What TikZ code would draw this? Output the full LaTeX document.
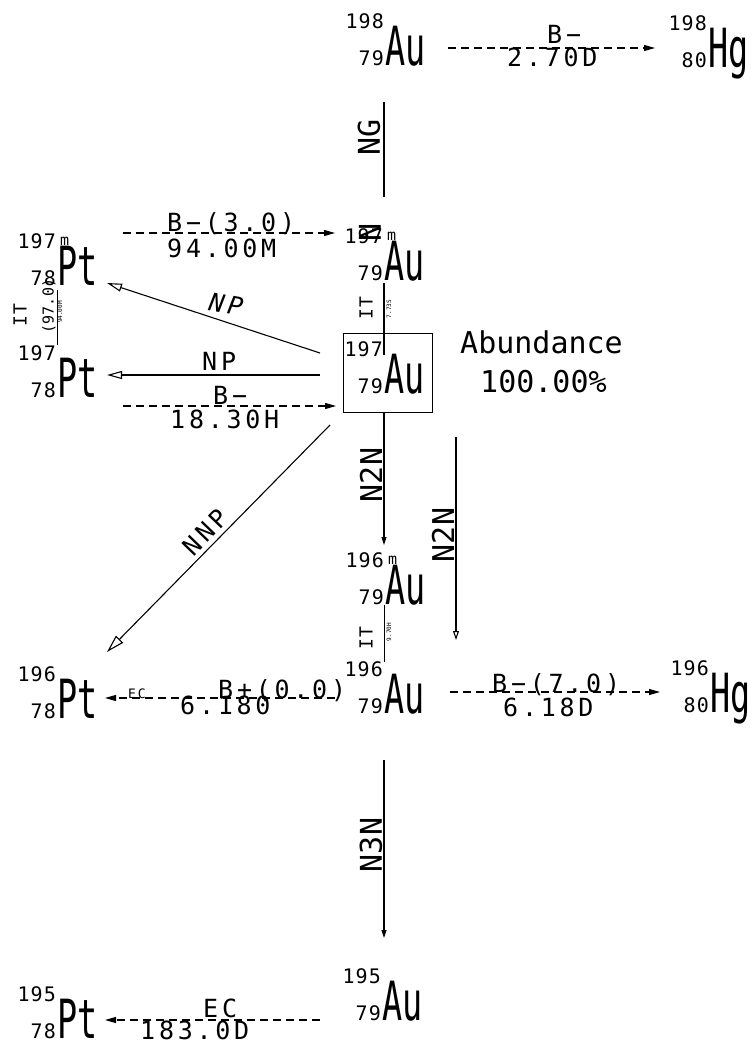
\documentclass[tikz,border=0pt]{standalone}
\usepackage{fontspec}
\usepackage{graphicx}
\usetikzlibrary{arrows.meta}
\newfontfamily\monoP{DejaVu Sans Mono}
\newfontfamily\monoN[LetterSpace=5]{DejaVu Sans Mono}
\newfontfamily\monoL[LetterSpace=15]{DejaVu Sans Mono}
\newcommand\fsz[1]{\fontsize{#1}{#1}\selectfont}
\tikzset{
  symb/.style={inner sep=0pt, anchor=base west, font=\monoP\fsz{54}},
  massnum/.style={inner sep=0pt, anchor=base east, font=\monoN\fsz{20}},
  metam/.style={inner sep=0pt, anchor=base west, font=\monoP\fsz{15}},
  lbl/.style={inner sep=0pt, anchor=base west, font=\monoL\fsz{25}},
  smlbl/.style={inner sep=0pt, anchor=base west, font=\monoL\fsz{13}},
  abund/.style={inner sep=0pt, anchor=base west, font=\monoP\fsz{30}},
  vlbl/.style={inner sep=0pt, rotate=90, font=\monoP\fsz{30}},
  itlbl/.style={inner sep=0pt, rotate=90, font=\monoN\fsz{18}},
  tinylbl/.style={inner sep=0pt, rotate=90, font=\monoP\fsz{6}},
  conn/.style={line width=1.1pt},
  thinconn/.style={line width=0.6pt},
  dsh/.style={line width=1.1pt, dash pattern=on 8pt off 5pt, -{Triangle[length=11pt,width=6pt]}},
  openhead/.style={line width=1.1pt, -{Triangle[open,length=15pt,width=8pt]}},
  bighead/.style={line width=1.1pt, -{Triangle[open,length=18pt,width=10pt]}},
  smallhead/.style={line width=1.1pt, -{Triangle[length=8pt,width=5pt]}},
  smallopen/.style={line width=1.1pt, -{Triangle[open,length=9pt,width=6pt]}},
}
\newcommand\nuc[6]{%
  \node[symb] (#1) at (#2,#3) {\scalebox{0.62}[1]{#6}};
  \node[massnum] (#1-a) at (#2-1,#3-37) {#4};
  \node[massnum] (#1-z) at (#2-1,#3) {#5};
}
\newcommand\nucm[6]{%
  \nuc{#1}{#2}{#3}{#4}{#5}{#6}
  \node[metam] (#1-m) at (#2+3,#3-40) {m};
}
\begin{document}
\begin{tikzpicture}[x=1pt,y=-1pt]
\useasboundingbox (0,0) rectangle (754,1050);
% nuclides
\nuc{au198}{385}{65}{198}{79}{Au}
\nuc{hg198}{708}{67}{198}{80}{Hg}
\nucm{au197m}{384}{280}{197}{79}{Au}
\nuc{au197}{384}{393}{197}{79}{Au}
\nucm{pt197m}{57}{285}{197}{78}{Pt}
\nuc{pt197}{57}{397}{197}{78}{Pt}
\nucm{au196m}{385}{604}{196}{79}{Au}
\nuc{au196}{384}{713}{196}{79}{Au}
\nuc{hg196}{710}{712}{196}{80}{Hg}
\nuc{pt196}{57}{718}{196}{78}{Pt}
\nuc{au195}{382}{1020}{195}{79}{Au}
\nuc{pt195}{57}{1038}{195}{78}{Pt}
% stable box and abundance
\node[draw, line width=1pt, minimum width=89pt, minimum height=79pt, inner sep=0pt] (box) at (387.5,372.5) {};
\node[abund] (ab1) at (460,353) {Abundance};
\node[abund] (ab2) at (480,392) {100.00\%};
% endpoints
\coordinate (a1) at (448,48);  \coordinate (a2) at (655,48);
\coordinate (ng1) at (384,197); \coordinate (ng2) at (384,102);
\coordinate (b1) at (123,233); \coordinate (b2) at (335,233);
\coordinate (it1) at (384,283); \coordinate (it2) at (384,355);
\coordinate (np1) at (320,353); \coordinate (np2) at (107,283);
\coordinate (np3) at (320,375); \coordinate (np4) at (107,375);
\coordinate (c1) at (123,406); \coordinate (c2) at (336,406);
\coordinate (nnp1) at (330,425); \coordinate (nnp2) at (107,652);
\coordinate (nn1) at (384,412); \coordinate (nn2) at (384,545);
\coordinate (nn3) at (456,437); \coordinate (nn4) at (456,640);
\coordinate (it3) at (384,605); \coordinate (it4) at (384,662);
\coordinate (ec1) at (335,698); \coordinate (ec2) at (105,698);
\coordinate (d1) at (450,692); \coordinate (d2) at (660,692);
\coordinate (n3a) at (384,760); \coordinate (n3b) at (384,938);
\coordinate (e1) at (320,1020); \coordinate (e2) at (105,1020);
\coordinate (pit1) at (57,290); \coordinate (pit2) at (57,345);
% connectors
\draw[dsh] (a1) -- (a2);
\draw[conn] (ng1) -- (ng2);
\draw[dsh] (b1) -- (b2);
\draw[conn] (it1) -- (it2);
\draw[openhead] (np1) -- (np2);
\draw[openhead] (np3) -- (np4);
\draw[dsh] (c1) -- (c2);
\draw[bighead] (nnp1) -- (nnp2);
\draw[smallhead] (nn1) -- (nn2);
\draw[smallopen] (nn3) -- (nn4);
\draw[thinconn] (it3) -- (it4);
\draw[dsh] (ec1) -- (ec2);
\draw[dsh] (d1) -- (d2);
\draw[smallhead] (n3a) -- (n3b);
\draw[dsh] (e1) -- (e2);
\draw[thinconn] (pit1) -- (pit2);
% labels
\node[lbl] (l1) at (547,43) {B−};
\node[lbl] (l2) at (507,66) {2.70D};
\node[vlbl] (l3) at (369,137) {NG};
\node[vlbl] (l3b) at (370,232) {N};
\node[lbl] (l4) at (167,231) {B−(3.0)};
\node[lbl] (l5) at (167,257) {94.00M};
\node[itlbl] (l6) at (366,308) {IT};
\node[tinylbl] (l7) at (389,309) {7.73S};
\node[inner sep=0pt, rotate=-10, font=\monoL\itshape\fsz{25}] (l8) at (226,304) {NP};
\node[lbl] (l9) at (202,370) {NP};
\node[lbl] (l10) at (213,404) {B−};
\node[lbl] (l11) at (170,428) {18.30H};
\node[itlbl] (l12) at (20,315) {IT};
\node[inner sep=0pt, rotate=90, font=\monoP\fsz{15}] (l13) at (49,306) {(97.0)};
\node[tinylbl] (l14) at (60,312) {94.00M};
\node[inner sep=0pt, rotate=46, font=\monoL\fsz{25}] (l15) at (205,532) {NNP};
\node[vlbl] (l16) at (371,475) {N2N};
\node[vlbl] (l17) at (443,535) {N2N};
\node[itlbl] (l18) at (366,638) {IT};
\node[tinylbl] (l19) at (389,632) {9.70H};
\node[smlbl] (l20) at (128,698) {EC};
\node[lbl] (l21) at (218,698) {B+(0.0)};
\node[lbl] (l22) at (180,714) {6.180};
\node[lbl] (l23) at (492,692) {B−(7.0)};
\node[lbl] (l24) at (503,716) {6.18D};
\node[vlbl] (l25) at (371,845) {N3N};
\node[lbl] (l26) at (203,1017) {EC};
\node[lbl] (l27) at (140,1039) {183.0D};
\end{tikzpicture}
\end{document}
